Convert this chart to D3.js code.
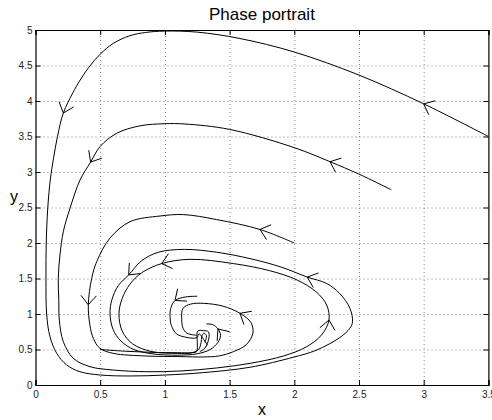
<!DOCTYPE html>
<html>
<head>
<meta charset="utf-8">
<script src="https://cdn.jsdelivr.net/npm/d3@7"></script>
<style>
body { margin: 0; background: #fff; }
text { font-family: "Liberation Sans", Arial, sans-serif; }
</style>
</head>
<body>
<svg width="492" height="420"></svg>
<script>
var xTicks = [0, 0.5, 1, 1.5, 2, 2.5, 3, 3.5];
var yTicks = [0, 0.5, 1, 1.5, 2, 2.5, 3, 3.5, 4, 4.5, 5];

// trajectories, in (x, y)
var traj1 = [[3.5,3.5],[3.0,3.96],[2.5,4.365],[2.0,4.69],[1.58,4.88],[1.25,4.97],[1.0,4.985],[0.85,4.965],
	[0.73,4.92],[0.6,4.81],[0.5,4.66],[0.41,4.47],[0.34,4.28],[0.29,4.12],[0.215,3.83],[0.17,3.5],
	[0.14,3.2],[0.115,2.9],[0.095,2.5],[0.083,2.0],
	[0.081,1.5],[0.086,1.0],[0.112,0.68],[0.164,0.446],[0.241,0.282],[0.344,0.187],[0.5,0.141],
	[0.73,0.127],[1.0,0.14],[1.3,0.175],[1.658,0.25],[1.99,0.39],[2.17,0.49],[2.353,0.67],[2.43,0.8],
	[2.45,0.89],[2.43,1.08],[2.35,1.29],[2.25,1.43],[2.1,1.52],[1.9,1.66],[1.658,1.78],[1.4,1.87],
	[1.15,1.91],[0.95,1.87],[0.82,1.75],[0.72,1.55],[0.64,1.4],[0.59,1.2],[0.576,1.0],[0.6,0.78],
	[0.66,0.62],[0.76,0.5],[0.9,0.44],[1.1,0.42],[1.25,0.44],[1.35,0.5],[1.41,0.6],[1.43,0.7],
	[1.41,0.79],[1.37,0.85],[1.32,0.86]];
var traj2 = [[2.75,2.75],[2.5,2.97],[2.276,3.145],[2.0,3.343],[1.5,3.6],[1.155,3.676],[1.0,3.68],
	[0.807,3.65],[0.627,3.545],[0.5,3.36],[0.426,3.14],[0.344,2.887],[0.267,2.49],[0.215,2.16],[0.189,1.83],[0.176,1.5],
	[0.18,1.2],[0.184,0.915],[0.215,0.61],[0.292,0.376],[0.421,0.258],[0.6,0.211],[0.86,0.187],
	[1.117,0.197],[1.4,0.24],[1.658,0.305],[1.915,0.408],[2.096,0.54],[2.21,0.704],[2.268,0.915],
	[2.25,1.127],[2.17,1.31],[2.02,1.48],[1.81,1.61],[1.53,1.71],[1.194,1.77],[0.975,1.71],[0.82,1.58],
	[0.73,1.42],[0.67,1.22],[0.645,1.0],[0.67,0.76],[0.75,0.58],[0.9,0.47],[1.1,0.445],[1.2,0.45],
	[1.26,0.5],[1.28,0.6],[1.285,0.68],[1.3,0.73],[1.32,0.7],[1.31,0.6]];
var traj3 = [[2.0,2.0],[1.735,2.19],[1.4,2.33],[1.142,2.4],[0.962,2.38],[0.73,2.3],[0.576,2.07],
	[0.473,1.737],[0.434,1.5],[0.408,1.13],[0.42,0.85],[0.447,0.657],[0.498,0.517],[0.6,0.446],
	[0.86,0.408],[1.117,0.4],[1.3,0.395],[1.42,0.41],[1.53,0.47],[1.63,0.57],[1.68,0.73],[1.665,0.88],
	[1.58,1.01],[1.45,1.11],[1.3,1.15],[1.2,1.14],[1.14,1.08],[1.13,0.92],[1.14,0.8],[1.17,0.73],
	[1.246,0.7]];
var traj4 = [[1.25,1.25],[1.16,1.24],[1.078,1.19],[1.045,1.08],[1.04,0.96],[1.05,0.84],[1.09,0.72],
	[1.17,0.67],[1.245,0.665],[1.265,0.72],[1.3,0.64],[1.33,0.56]];
var traj5 = [[0.5,0.5],[0.7,0.475],[0.9,0.46],[1.1,0.455],[1.2,0.455],[1.245,0.47],[1.25,0.6],
	[1.254,0.76],[1.3,0.765],[1.336,0.75],[1.34,0.66],[1.31,0.52],[1.27,0.47]];
var trajectories = [traj1, traj2, traj3, traj4, traj5];

// arrowheads: [trajectory, x, y]
var arrows = [[0,3.0,3.96],[0,0.215,3.83],[0,2.1,1.52],[0,0.72,1.55],[0,1.41,0.79],
	[1,2.276,3.145],[1,0.426,3.14],[1,2.268,0.915],[1,0.975,1.71],
	[2,1.735,2.19],[2,0.408,1.13],[2,1.58,1.01],
	[3,1.078,1.19]];

var svg = d3.select("svg"),
	margin = {top: 30, right: 3.6, bottom: 35, left: 35.5},
	width = +svg.attr("width") - margin.left - margin.right,
	height = +svg.attr("height") - margin.top - margin.bottom;

var x = d3.scaleLinear().domain([0, 3.5]).range([0, width]),
	y = d3.scaleLinear().domain([0, 5]).range([height, 0]);

var g = svg.append("g")
	.attr("transform", "translate(" + margin.left + "," + margin.top + ")");

svg.append("defs").append("clipPath").attr("id", "clip")
	.append("rect").attr("width", width).attr("height", height);

// dotted grid
g.append("g")
	.attr("class", "grid")
	.attr("transform", "translate(0," + height + ")")
	.call(d3.axisBottom(x).tickValues(xTicks.slice(1, -1)).tickSize(-height).tickFormat(""));
g.append("g")
	.attr("class", "grid")
	.call(d3.axisLeft(y).tickValues(yTicks.slice(1, -1)).tickSize(-width).tickFormat(""));
g.selectAll(".grid .domain").remove();
g.selectAll(".grid line")
	.attr("stroke", "#666")
	.attr("stroke-width", 0.8)
	.attr("stroke-dasharray", "1,3");

// trajectories
var line = d3.line()
	.x(function(d) { return x(d[0]); })
	.y(function(d) { return y(d[1]); })
	.curve(d3.curveCatmullRom.alpha(0.5));

g.append("g").attr("clip-path", "url(#clip)")
	.selectAll(".traj")
	.data(trajectories)
	.enter().append("path")
	.attr("class", "traj")
	.attr("d", line)
	.attr("fill", "none")
	.attr("stroke", "#000")
	.attr("stroke-width", 1);

// arrowheads drawn along the flow direction of each trajectory
var headLen = 12, headAng = 40 * Math.PI / 180;
g.selectAll(".arrow")
	.data(arrows)
	.enter().append("path")
	.attr("class", "arrow")
	.attr("fill", "none")
	.attr("stroke", "#000")
	.attr("stroke-width", 1)
	.attr("d", function(a) {
		var pts = trajectories[a[0]];
		var best = 0, bd = Infinity;
		for (var i = 0; i < pts.length; i++) {
			var dd = Math.pow(pts[i][0] - a[1], 2) + Math.pow(pts[i][1] - a[2], 2);
			if (dd < bd) { bd = dd; best = i; }
		}
		var p0 = pts[Math.max(best - 1, 0)], p1 = pts[Math.min(best + 1, pts.length - 1)];
		var tx = x(pts[best][0]), ty = y(pts[best][1]);
		var back = Math.atan2(y(p0[1]) - y(p1[1]), x(p0[0]) - x(p1[0]));
		var b1 = [tx + headLen * Math.cos(back + headAng), ty + headLen * Math.sin(back + headAng)];
		var b2 = [tx + headLen * Math.cos(back - headAng), ty + headLen * Math.sin(back - headAng)];
		return "M" + b1 + "L" + tx + "," + ty + "L" + b2;
	});

// axes with inward ticks on all four sides
g.append("g")
	.attr("transform", "translate(0," + height + ")")
	.call(d3.axisBottom(x).tickValues(xTicks).tickSize(-5).tickPadding(6).tickFormat(function(d) { return d; }));
g.append("g")
	.call(d3.axisLeft(y).tickValues(yTicks).tickSize(-5).tickPadding(3).tickFormat(function(d) { return d; }));
g.append("g")
	.call(d3.axisTop(x).tickValues(xTicks).tickSize(-5).tickFormat(""));
g.append("g")
	.attr("transform", "translate(" + width + ",0)")
	.call(d3.axisRight(y).tickValues(yTicks).tickSize(-5).tickFormat(""));

g.selectAll(".tick text")
	.attr("font-size", "10px")
	.attr("fill", "#222")
	.style("font-family", "'Liberation Sans', Arial, sans-serif");
g.selectAll(".domain").attr("stroke", "#000").attr("stroke-width", 1.2);

svg.append("text")
	.attr("x", margin.left + width / 2)
	.attr("y", 20)
	.attr("text-anchor", "middle")
	.attr("font-size", "17px")
	.text("Phase portrait");

svg.append("text")
	.attr("x", margin.left + width / 2)
	.attr("y", 415)
	.attr("text-anchor", "middle")
	.attr("font-size", "16px")
	.text("x");

svg.append("text")
	.attr("x", 14)
	.attr("y", 202)
	.attr("text-anchor", "middle")
	.attr("font-size", "16px")
	.text("y");
</script>
</body>
</html>
